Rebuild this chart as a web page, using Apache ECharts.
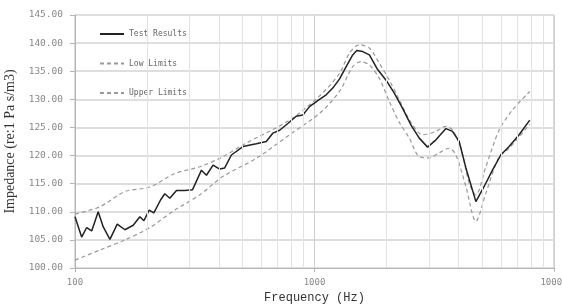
<!DOCTYPE html>
<html>
<head>
<meta charset="utf-8">
<script src="https://cdn.jsdelivr.net/npm/echarts@6/dist/echarts.min.js"></script>
<style>
  html, body { margin: 0; padding: 0; background: #fff; }
  #main { width: 562px; height: 305px; }
</style>
</head>
<body>
<div id="main"></div>
<script>
// measured test curve (Hz / dB)
var testFreq = [100, 106.6, 111.9, 117.4, 125, 131.2, 139.9, 150.1, 161.6, 175,
  186.6, 193.9, 204, 213.4, 227.6, 237.1, 248.8, 265.3, 287.3, 309.3,
  337.3, 353.9, 377, 401.9, 421.7, 449.8, 502.6, 571.6, 629.2, 670.6,
  714.9, 774.1, 838.8, 894, 953.1, 1049, 1119, 1192, 1271, 1356,
  1444, 1501, 1590, 1695, 1835, 1990, 2154, 2333, 2529, 2738,
  2966, 3215, 3538, 3770, 4019, 4287, 4719, 5109, 5534, 5996,
  6494, 7149, 7922];
var testVal = [109.1, 105.5, 107.2, 106.6, 110.0, 107.3, 105.1, 107.8, 106.8, 107.6,
  109.1, 108.4, 110.3, 109.8, 112.1, 113.2, 112.4, 113.8, 113.8, 113.9,
  117.4, 116.5, 118.3, 117.6, 117.8, 120.1, 121.6, 122.1, 122.5, 124.0,
  124.5, 125.7, 127.0, 127.2, 128.7, 130.0, 130.8, 132.0, 133.6, 135.8,
  137.9, 138.7, 138.5, 137.9, 135.3, 133.4, 131.1, 128.4, 125.4, 123.1,
  121.5, 122.8, 124.8, 124.3, 122.5, 117.8, 111.8, 114.5, 117.4, 120.1,
  121.6, 123.7, 126.3];

var lowFreq = [100, 127.1, 161.6, 205.4, 260.9, 331.6, 415, 571.6, 786.6, 1049,
  1271, 1444, 1565, 1695, 1866, 2054, 2261, 2488, 2738, 3015,
  3318, 3652, 3894, 4287, 4719, 5193, 5900, 6494, 7922];
var lowVal = [101.4, 103.2, 105.0, 107.2, 110.3, 113.0, 116.3, 119.5, 123.7, 127.5,
  131.4, 135.8, 136.7, 136.1, 133.7, 129.6, 125.9, 123.1, 119.8, 119.6,
  120.5, 121.3, 120.1, 114.5, 108.3, 113.3, 119.8, 121.3, 125.6];

var upFreq = [100, 127.1, 161.6, 205.4, 260.9, 331.6, 415, 502.6, 786.6, 1049,
  1271, 1399, 1540, 1695, 1866, 2054, 2261, 2488, 2827, 3215,
  3538, 3770, 4086, 4424, 4719, 5193, 5900, 6706, 7922];
var upVal = [109.6, 110.9, 113.6, 114.4, 116.8, 118.0, 119.8, 121.9, 126.3, 130.6,
  134.6, 138.2, 139.7, 139.1, 136.4, 133.4, 129.9, 126.4, 123.7, 124.3,
  125.2, 124.5, 121.3, 115.1, 113.0, 118.0, 124.5, 128.1, 131.4];

var seriesNames = ["Test Results", "Low Limits", "Upper Limits"];
var minorGrid = [200, 300, 400, 500, 600, 700, 800, 900,
  2000, 3000, 4000, 5000, 6000, 7000, 8000, 9000];

function pairs(xs, ys) {
  var out = [];
  for (var i = 0; i < xs.length; i++) out.push([xs[i], ys[i]]);
  return out;
}

var chart = echarts.init(document.getElementById('main'));

var gridMarks = [];
for (var i = 0; i < minorGrid.length; i++) gridMarks.push({ xAxis: minorGrid[i] });

var option = {
  animation: false,
  backgroundColor: '#fff',
  grid: {
    left: 75, right: 8, top: 15, bottom: 37,
    outerBoundsMode: 'none', containLabel: false,
    show: true, borderColor: '#b5b5b5', borderWidth: 1
  },
  legend: {
    data: seriesNames,
    orient: 'vertical',
    left: 94,
    top: 25,
    itemWidth: 24,
    itemHeight: 8,
    itemGap: 21.5,
    itemStyle: { opacity: 0 },
    textStyle: { fontFamily: 'DejaVu Sans Mono', fontSize: 8, color: '#666' }
  },
  xAxis: {
    type: 'log',
    logBase: 10,
    min: 100,
    max: 10000,
    name: 'Frequency (Hz)',
    nameLocation: 'middle',
    nameGap: 24,
    nameTextStyle: { fontFamily: 'Liberation Mono', fontSize: 12, color: '#333' },
    axisLine: { show: true, lineStyle: { color: '#b5b5b5' } },
    axisTick: { show: true, length: 4, lineStyle: { color: '#b5b5b5' } },
    axisLabel: {
      margin: 10, fontFamily: 'DejaVu Sans Mono', fontSize: 9, color: '#888',
      formatter: function (v) { return String(v); }
    },
    splitLine: { show: true, lineStyle: { color: '#cfcfcf', width: 1 } }
  },
  yAxis: {
    type: 'value',
    min: 100,
    max: 145,
    interval: 5,
    name: 'Impedance (re:1 Pa s/m3)',
    nameLocation: 'middle',
    nameGap: 50,
    nameTextStyle: { fontFamily: 'Liberation Serif', fontSize: 14, color: '#333' },
    axisLine: { show: true, lineStyle: { color: '#b5b5b5' } },
    axisTick: { show: true, length: 5, lineStyle: { color: '#b5b5b5' } },
    axisLabel: {
      margin: 12, fontFamily: 'DejaVu Sans Mono', fontSize: 9.5, color: '#888',
      formatter: function (v) { return v.toFixed(2); }
    },
    splitLine: { show: true, lineStyle: { color: '#dedede', width: 2 } }
  },
  series: [
    {
      name: 'grid', type: 'line', data: [[100, 100]], symbol: 'none',
      lineStyle: { opacity: 0 }, silent: true, z: 1,
      markLine: {
        silent: true, symbol: 'none', label: { show: false },
        lineStyle: { color: '#e2e2e2', type: 'solid', width: 1 },
        data: gridMarks
      }
    },
    {
      name: seriesNames[0], type: 'line', data: pairs(testFreq, testVal),
      symbol: 'none', z: 4,
      lineStyle: { color: '#222', width: 1.5 },
      itemStyle: { color: '#222' }
    },
    {
      name: seriesNames[1], type: 'line', data: pairs(lowFreq, lowVal),
      symbol: 'none', smooth: 0.3, z: 3,
      lineStyle: { color: '#999', width: 1.2, type: [4, 3] },
      itemStyle: { color: '#999' }
    },
    {
      name: seriesNames[2], type: 'line', data: pairs(upFreq, upVal),
      symbol: 'none', smooth: 0.3, z: 3,
      lineStyle: { color: '#999', width: 1.2, type: [4, 3] },
      itemStyle: { color: '#999' }
    }
  ]
};

chart.setOption(option);
</script>
</body>
</html>
